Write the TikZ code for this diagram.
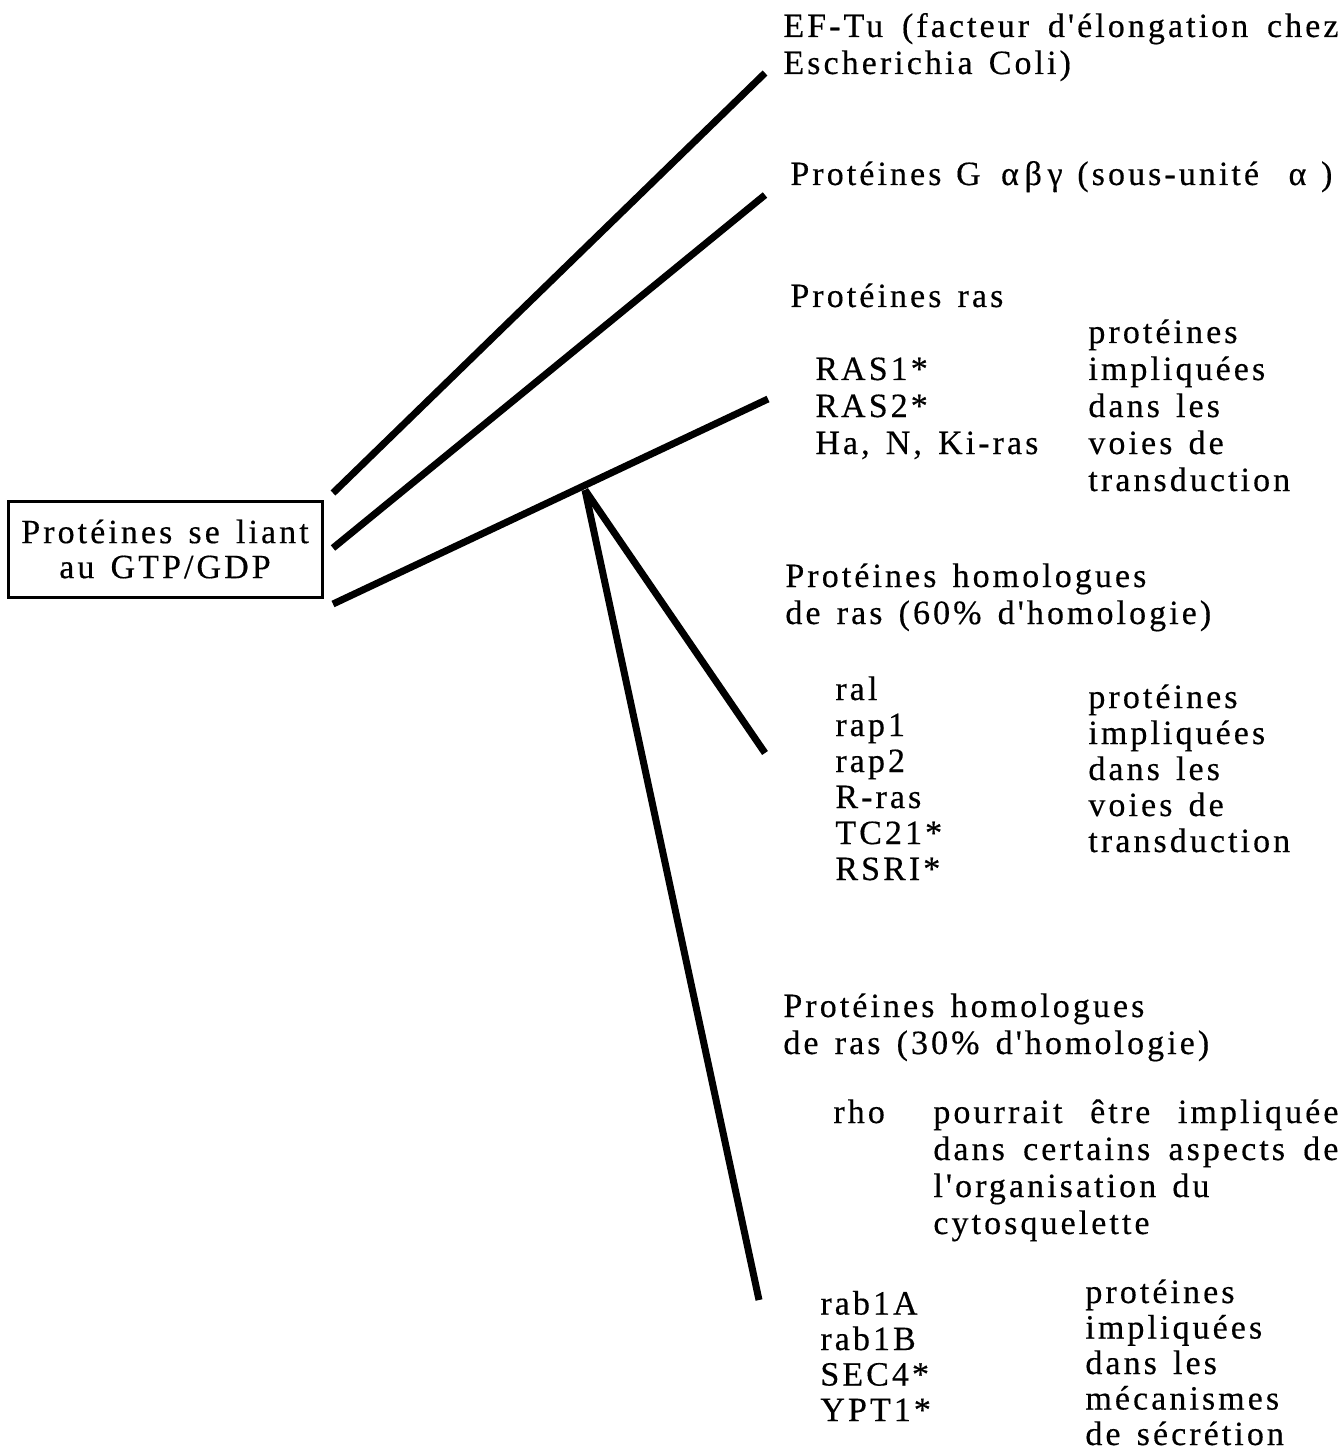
\documentclass[tikz,border=0pt]{standalone}
\usepackage{fontspec}
\setmainfont[LetterSpace=9, WordSpace=1.4, Ligatures=TeXOff, FakeBold=0.4]{Liberation Serif}
\usetikzlibrary{positioning}

\begin{document}
\begin{tikzpicture}[
    x=0.5pt, y=-0.5pt,
    label/.style={anchor=base west, inner sep=0pt, align=left, font=\fontsize{17}{18.5}\selectfont},
    gbox/.style={rectangle, draw=black, line width=1.5pt, minimum width=157pt, minimum height=48pt, inner sep=0pt, align=center, font=\fontsize{17}{17.5}\selectfont},
    branch/.style={line width=3.5pt}
]
    \useasboundingbox (0,0) rectangle (1342,1454);

    % Nodes (placed at the baseline of their last line)
    \node[gbox] (gtp) at (165,549) {Protéines se liant\\au GTP/GDP};

    \node[label] (eftu) at (783,74) {\makebox[277.5pt][s]{EF-Tu (facteur d'élongation chez}\\Escherichia Coli)};
    \node[label] (galpha) at (790,185) {\makebox[271pt][s]{Protéines G \,α\,β\,γ (sous-unité \ α )}};

    \node[label] (ras) at (790,307) {Protéines ras};
    \node[label] (rasmembers) at (815,454) {RAS1*\\RAS2*\\Ha, N, Ki-ras};
    \node[label] (rasrole) at (1088,491) {protéines\\impliquées\\dans les\\voies de\\transduction};

    \node[label] (homsixty) at (785,624) {Protéines homologues\\de ras (60\% d'homologie)};
    \node[label, font=\fontsize{17}{18}\selectfont] (sixtymembers) at (835,880) {ral\\rap1\\rap2\\R-ras\\TC21*\\RSRI*};
    \node[label, font=\fontsize{17}{18}\selectfont] (sixtyrole) at (1088,852) {protéines\\impliquées\\dans les\\voies de\\transduction};

    \node[label] (homthirty) at (783,1054) {Protéines homologues\\de ras (30\% d'homologie)};
    \node[label] (rho) at (833,1123) {rho};
    \node[label] (rhorole) at (933,1234) {\makebox[202.5pt][s]{pourrait être impliquée}\\\makebox[202.5pt][s]{dans certains aspects de}\\l'organisation du\\cytosquelette};

    \node[label, font=\fontsize{17}{17.75}\selectfont] (rabmembers) at (820,1421) {rab1A\\rab1B\\SEC4*\\YPT1*};
    \node[label, font=\fontsize{17}{17.75}\selectfont] (rabrole) at (1085,1445) {protéines\\impliquées\\dans les\\mécanismes\\de sécrétion};

    % Branch points
    \coordinate (s1) at (333,493);
    \coordinate (s2) at (333,548);
    \coordinate (s3) at (333,604);
    \coordinate (fork) at (585,490);
    \coordinate (e1) at (765,73);
    \coordinate (e2) at (765,195);
    \coordinate (e3) at (768,399);
    \coordinate (e4) at (765,753);
    \coordinate (e5) at (759,1300);

    % Lines
    \draw[branch] (s1) -- (e1);
    \draw[branch] (s2) -- (e2);
    \draw[branch] (s3) -- (e3);
    \draw[branch] (fork) -- (e4);
    \draw[branch] (fork) -- (e5);

\end{tikzpicture}
\end{document}
